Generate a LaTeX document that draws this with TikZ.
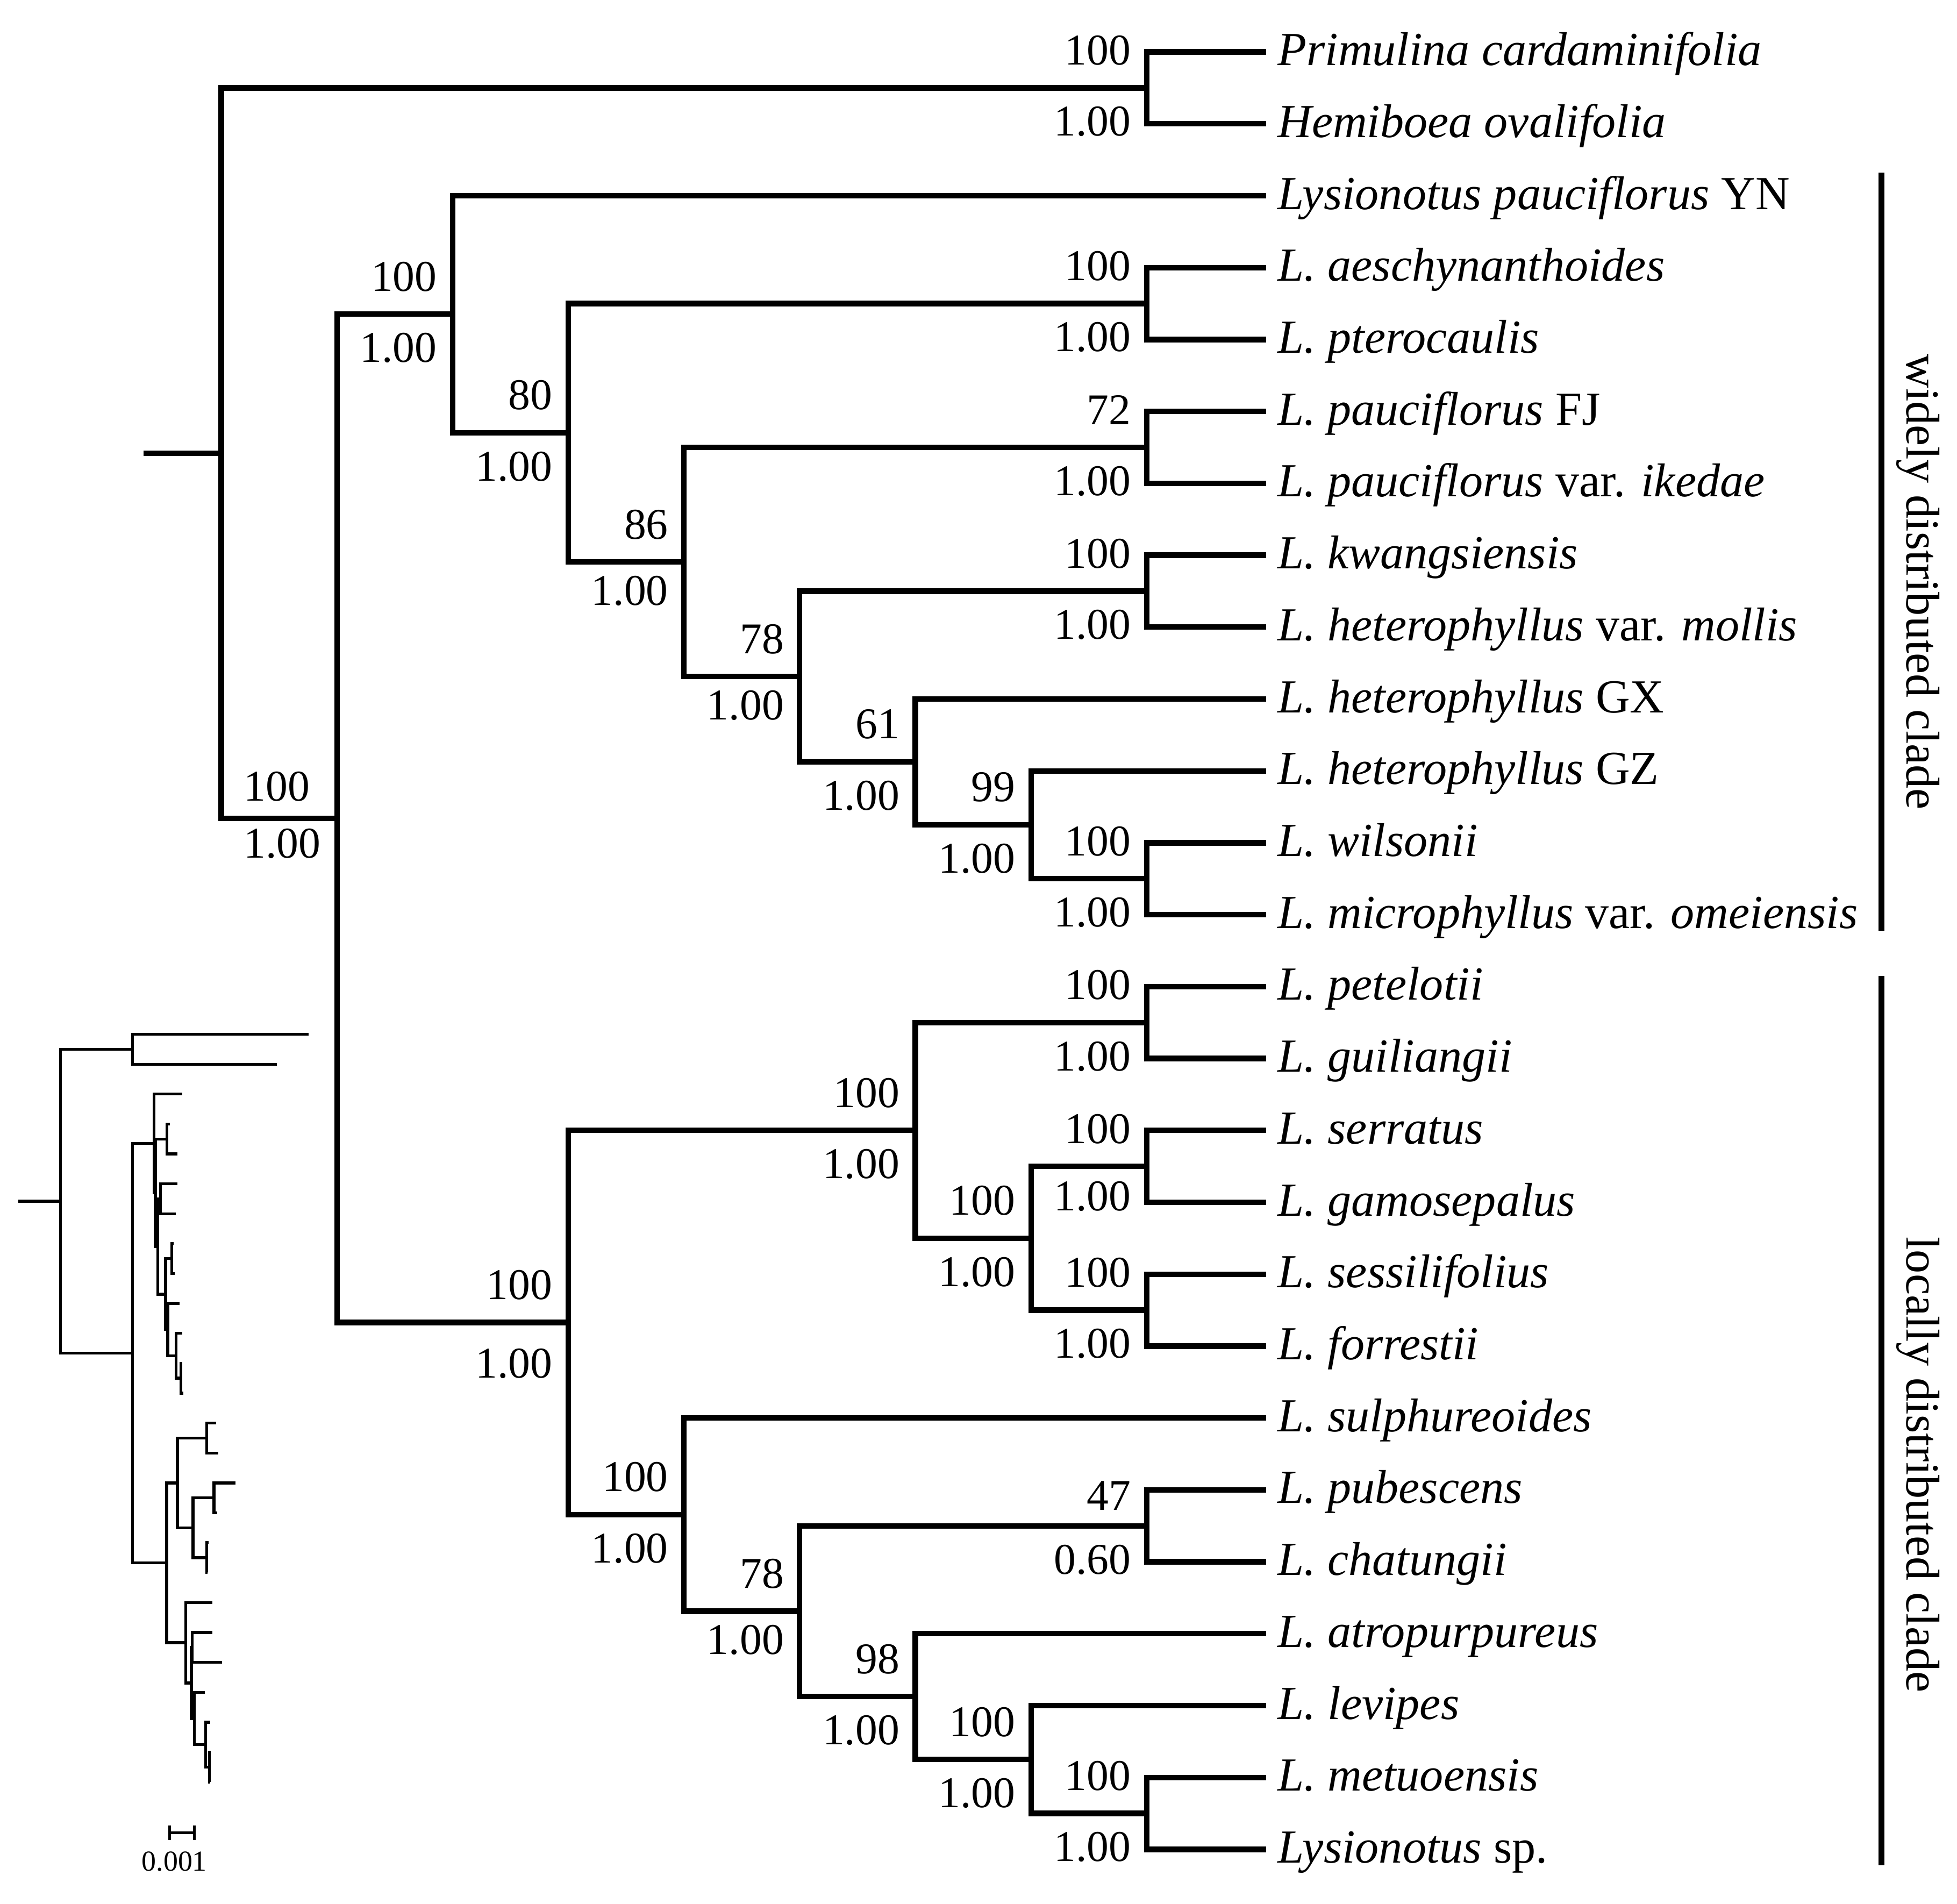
\documentclass[tikz,border=0pt]{standalone}
\usepackage{fontspec}
\setmainfont{Liberation Serif}
\begin{document}
\begin{tikzpicture}[x=0.01cm,y=-0.01cm,
  br/.style={line width=1.25pt, line join=miter},
  ibr/.style={line width=0.65pt, line join=miter},
  clbar/.style={line width=1.3pt},
  tiplab/.style={anchor=base west, inner sep=0pt, xshift=0.085cm, yshift=-0.108cm, font=\fontsize{10.8}{13}\selectfont\itshape},
  numf/.style={inner sep=0pt, font=\fontsize{10}{12}\selectfont},
  bs/.style={numf, anchor=east, xshift=-0.12cm, yshift=0.30cm},
  pp/.style={numf, anchor=east, xshift=-0.12cm, yshift=-0.27cm},
  cllab/.style={rotate=-90, anchor=base, inner sep=0pt, font=\fontsize{10.8}{13}\selectfont}
]
\fill[white] (0,0) rectangle (1568,1525.3);
\useasboundingbox (0,0) rectangle (1568,1525.3);

% ---------------- main tree ----------------
\coordinate (stem) at (114.9,363.0);
\coordinate (root) at (177.3,363.0);
\coordinate (og) at (918.8,70.4);
\coordinate (ing) at (270.0,655.6);
\coordinate (A) at (362.7,251.7);
\coordinate (B) at (455.3,346.7);
\coordinate (P1) at (918.8,243.2);
\coordinate (C) at (548.0,450.2);
\coordinate (P2) at (918.8,358.4);
\coordinate (D) at (640.7,542.0);
\coordinate (P3) at (918.8,473.6);
\coordinate (E) at (733.4,610.4);
\coordinate (F) at (826.1,660.8);
\coordinate (G) at (918.8,704.0);
\coordinate (H) at (455.3,1059.5);
\coordinate (I) at (733.4,905.6);
\coordinate (P4) at (918.8,819.2);
\coordinate (J) at (826.1,992.0);
\coordinate (P5) at (918.8,934.4);
\coordinate (P6) at (918.8,1049.6);
\coordinate (K) at (548.0,1213.4);
\coordinate (L) at (640.7,1290.8);
\coordinate (P7) at (918.8,1222.4);
\coordinate (M) at (733.4,1359.2);
\coordinate (N) at (826.1,1409.6);
\coordinate (O) at (918.8,1452.8);
\foreach \i in {0,...,25} {\coordinate (t\i) at (1014.5,{41.6+57.6*\i});}

\draw[br] (stem) -- (root);
\draw[br] (root) |- (og);  \draw[br] (root) |- (ing);
\draw[br] (og) |- (t0);    \draw[br] (og) |- (t1);
\draw[br] (ing) |- (A);    \draw[br] (ing) |- (H);
\draw[br] (A) |- (t2);     \draw[br] (A) |- (B);
\draw[br] (B) |- (P1);     \draw[br] (B) |- (C);
\draw[br] (P1) |- (t3);    \draw[br] (P1) |- (t4);
\draw[br] (C) |- (P2);     \draw[br] (C) |- (D);
\draw[br] (P2) |- (t5);    \draw[br] (P2) |- (t6);
\draw[br] (D) |- (P3);     \draw[br] (D) |- (E);
\draw[br] (P3) |- (t7);    \draw[br] (P3) |- (t8);
\draw[br] (E) |- (t9);     \draw[br] (E) |- (F);
\draw[br] (F) |- (t10);    \draw[br] (F) |- (G);
\draw[br] (G) |- (t11);    \draw[br] (G) |- (t12);
\draw[br] (H) |- (I);      \draw[br] (H) |- (K);
\draw[br] (I) |- (P4);     \draw[br] (I) |- (J);
\draw[br] (P4) |- (t13);   \draw[br] (P4) |- (t14);
\draw[br] (J) |- (P5);     \draw[br] (J) |- (P6);
\draw[br] (P5) |- (t15);   \draw[br] (P5) |- (t16);
\draw[br] (P6) |- (t17);   \draw[br] (P6) |- (t18);
\draw[br] (K) |- (t19);    \draw[br] (K) |- (L);
\draw[br] (L) |- (P7);     \draw[br] (L) |- (M);
\draw[br] (P7) |- (t20);   \draw[br] (P7) |- (t21);
\draw[br] (M) |- (t22);    \draw[br] (M) |- (N);
\draw[br] (N) |- (t23);    \draw[br] (N) |- (O);
\draw[br] (O) |- (t24);    \draw[br] (O) |- (t25);

% tip labels
\node[tiplab] (n0) at (t0) {Primulina cardaminifolia};
\node[tiplab] (n1) at (t1) {Hemiboea ovalifolia};
\node[tiplab] (n2) at (t2) {Lysionotus pauciflorus \upshape YN};
\node[tiplab] (n3) at (t3) {L. aeschynanthoides};
\node[tiplab] (n4) at (t4) {L. pterocaulis};
\node[tiplab] (n5) at (t5) {L. pauciflorus \upshape FJ};
\node[tiplab] (n6) at (t6) {L. pauciflorus {\upshape var.} ikedae};
\node[tiplab] (n7) at (t7) {L. kwangsiensis};
\node[tiplab] (n8) at (t8) {L. heterophyllus {\upshape var.} mollis};
\node[tiplab] (n9) at (t9) {L. heterophyllus \upshape GX};
\node[tiplab] (n10) at (t10) {L. heterophyllus \upshape GZ};
\node[tiplab] (n11) at (t11) {L. wilsonii};
\node[tiplab] (n12) at (t12) {L. microphyllus {\upshape var.} omeiensis};
\node[tiplab] (n13) at (t13) {L. petelotii};
\node[tiplab] (n14) at (t14) {L. guiliangii};
\node[tiplab] (n15) at (t15) {L. serratus};
\node[tiplab] (n16) at (t16) {L. gamosepalus};
\node[tiplab] (n17) at (t17) {L. sessilifolius};
\node[tiplab] (n18) at (t18) {L. forrestii};
\node[tiplab] (n19) at (t19) {L. sulphureoides};
\node[tiplab] (n20) at (t20) {L. pubescens};
\node[tiplab] (n21) at (t21) {L. chatungii};
\node[tiplab] (n22) at (t22) {L. atropurpureus};
\node[tiplab] (n23) at (t23) {L. levipes};
\node[tiplab] (n24) at (t24) {L. metuoensis};
\node[tiplab] (n25) at (t25) {Lysionotus \upshape sp.};

% support values
\node[bs] (bog) at (og) {100};  \node[pp] (pog) at (og) {1.00};
\node[numf, anchor=west] (bing) at (194.6,630) {100};
\node[numf, anchor=west] (ping) at (194.6,676) {1.00};
\node[bs] (bA) at (A) {100};    \node[pp] (pA) at (A) {1.00};
\node[bs] (bB) at (B) {80};     \node[pp] (pB) at (B) {1.00};
\node[bs] (bP1) at (P1) {100};  \node[pp] (pP1) at (P1) {1.00};
\node[bs] (bC) at (C) {86};     \node[pp, yshift=0.04cm] (pC) at (C) {1.00};
\node[bs] (bP2) at (P2) {72};   \node[pp] (pP2) at (P2) {1.00};
\node[bs] (bD) at (D) {78};     \node[pp, yshift=0.04cm] (pD) at (D) {1.00};
\node[bs] (bP3) at (P3) {100};  \node[pp] (pP3) at (P3) {1.00};
\node[bs] (bE) at (E) {61};     \node[pp] (pE) at (E) {1.00};
\node[bs] (bF) at (F) {99};     \node[pp] (pF) at (F) {1.00};
\node[bs] (bG) at (G) {100};    \node[pp] (pG) at (G) {1.00};
\node[bs] (bH) at (H) {100};    \node[pp, yshift=-0.06cm] (pH) at (H) {1.00};
\node[bs] (bI) at (I) {100};    \node[pp] (pI) at (I) {1.00};
\node[bs] (bP4) at (P4) {100};  \node[pp] (pP4) at (P4) {1.00};
\node[bs] (bJ) at (J) {100};    \node[pp] (pJ) at (J) {1.00};
\node[bs] (bP5) at (P5) {100};  \node[pp, yshift=0.03cm] (pP5) at (P5) {1.00};
\node[bs] (bP6) at (P6) {100};  \node[pp] (pP6) at (P6) {1.00};
\node[bs] (bK) at (K) {100};    \node[pp] (pK) at (K) {1.00};
\node[bs] (bL) at (L) {78};     \node[pp, yshift=0.04cm] (pL) at (L) {1.00};
\node[bs, yshift=-0.06cm] (bP7) at (P7) {47}; \node[pp] (pP7) at (P7) {0.60};
\node[bs] (bM) at (M) {98};     \node[pp] (pM) at (M) {1.00};
\node[bs] (bN) at (N) {100};    \node[pp] (pN) at (N) {1.00};
\node[bs] (bO) at (O) {100};    \node[pp] (pO) at (O) {1.00};

% clade bars
\coordinate (wtop) at (1507.6,138.3);
\coordinate (wbot) at (1507.6,745.5);
\coordinate (ltop) at (1507.6,781.7);
\coordinate (lbot) at (1507.6,1494.3);
\draw[clbar] (wtop) -- (wbot);
\draw[clbar] (ltop) -- (lbot);
\node[cllab] (wlab) at (1527.8,466.2) {widely distributed clade};
\node[cllab] (llab) at (1527.8,1173.4) {locally distributed clade};

% ---------------- inset phylogram ----------------
\coordinate (istem) at (14.5,962.3);
\coordinate (iroot) at (48.6,962.3);
\coordinate (iog) at (106.3,840.6);
\coordinate (iing) at (106.3,1084.0);
\coordinate (iA) at (123.3,916.1);
\coordinate (iB) at (124.5,955.6);
\coordinate (iP1) at (133.9,912.5);
\coordinate (iC) at (126.5,998.5);
\coordinate (iP2) at (128.6,960.4);
\coordinate (iD) at (132.7,1036.8);
\coordinate (iP3) at (137.7,1008.3);
\coordinate (iE) at (134.4,1065.2);
\coordinate (iF) at (141.0,1086.2);
\coordinate (iG) at (145.1,1104.1);
\coordinate (iH) at (133.5,1252.0);
\coordinate (iI) at (142.1,1188.0);
\coordinate (iP4) at (165.7,1152.1);
\coordinate (iJ) at (154.6,1223.9);
\coordinate (iP5) at (171.4,1200.0);
\coordinate (iP6) at (165.7,1247.9);
\coordinate (iK) at (148.8,1316.0);
\coordinate (iL) at (153.3,1348.3);
\coordinate (iP7) at (154.1,1319.8);
\coordinate (iM) at (155.8,1376.7);
\coordinate (iN) at (164.9,1397.6);
\coordinate (iO) at (167.8,1415.6);
\coordinate (it0) at (247.3,828.6);
\coordinate (it1) at (221.7,852.6);
\coordinate (it2) at (145.9,876.5);
\coordinate (it3) at (136.0,900.5);
\coordinate (it4) at (142.1,924.4);
\coordinate (it5) at (142.1,948.4);
\coordinate (it6) at (141.0,972.4);
\coordinate (it7) at (139.3,996.3);
\coordinate (it8) at (139.8,1020.3);
\coordinate (it9) at (143.8,1044.2);
\coordinate (it10) at (145.9,1068.2);
\coordinate (it11) at (145.9,1092.2);
\coordinate (it12) at (146.7,1116.1);
\coordinate (it13) at (173.1,1140.1);
\coordinate (it14) at (175.1,1164.0);
\coordinate (it15) at (188.8,1188.0);
\coordinate (it16) at (173.9,1212.0);
\coordinate (it17) at (167.3,1235.9);
\coordinate (it18) at (166.4,1259.9);
\coordinate (it19) at (170.1,1283.8);
\coordinate (it20) at (170.1,1307.8);
\coordinate (it21) at (177.7,1331.8);
\coordinate (it22) at (164.0,1355.7);
\coordinate (it23) at (168.5,1379.7);
\coordinate (it24) at (169.0,1403.6);
\coordinate (it25) at (168.6,1427.6);

\draw[ibr] (istem) -- (iroot);
\draw[ibr] (iroot) |- (iog);  \draw[ibr] (iroot) |- (iing);
\draw[ibr] (iog) |- (it0);    \draw[ibr] (iog) |- (it1);
\draw[ibr] (iing) |- (iA);    \draw[ibr] (iing) |- (iH);
\draw[ibr] (iA) |- (it2);     \draw[ibr] (iA) |- (iB);
\draw[ibr] (iB) |- (iP1);     \draw[ibr] (iB) |- (iC);
\draw[ibr] (iP1) |- (it3);    \draw[ibr] (iP1) |- (it4);
\draw[ibr] (iC) |- (iP2);     \draw[ibr] (iC) |- (iD);
\draw[ibr] (iP2) |- (it5);    \draw[ibr] (iP2) |- (it6);
\draw[ibr] (iD) |- (iP3);     \draw[ibr] (iD) |- (iE);
\draw[ibr] (iP3) |- (it7);    \draw[ibr] (iP3) |- (it8);
\draw[ibr] (iE) |- (it9);     \draw[ibr] (iE) |- (iF);
\draw[ibr] (iF) |- (it10);    \draw[ibr] (iF) |- (iG);
\draw[ibr] (iG) |- (it11);    \draw[ibr] (iG) |- (it12);
\draw[ibr] (iH) |- (iI);      \draw[ibr] (iH) |- (iK);
\draw[ibr] (iI) |- (iP4);     \draw[ibr] (iI) |- (iJ);
\draw[ibr] (iP4) |- (it13);   \draw[ibr] (iP4) |- (it14);
\draw[ibr] (iJ) |- (iP5);     \draw[ibr] (iJ) |- (iP6);
\draw[ibr] (iP5) |- (it15);   \draw[ibr] (iP5) |- (it16);
\draw[ibr] (iP6) |- (it17);   \draw[ibr] (iP6) |- (it18);
\draw[ibr] (iK) |- (it19);    \draw[ibr] (iK) |- (iL);
\draw[ibr] (iL) |- (iP7);     \draw[ibr] (iL) |- (iM);
\draw[ibr] (iP7) |- (it20);   \draw[ibr] (iP7) |- (it21);
\draw[ibr] (iM) |- (it22);    \draw[ibr] (iM) |- (iN);
\draw[ibr] (iN) |- (it23);    \draw[ibr] (iN) |- (iO);
\draw[ibr] (iO) |- (it24);    \draw[ibr] (iO) |- (it25);

% scale bar
\coordinate (sb1) at (136.0,1468.2);
\coordinate (sb2) at (155.8,1468.2);
\draw[ibr] (sb1) -- (sb2);
\draw[ibr] (136.0,1462.4) -- (136.0,1474.0);
\draw[ibr] (155.8,1462.4) -- (155.8,1474.0);
\node[inner sep=0pt, font=\fontsize{6.6}{8}\selectfont] (sblab) at (139.7,1491.3) {0.001};
\end{tikzpicture}
\end{document}
